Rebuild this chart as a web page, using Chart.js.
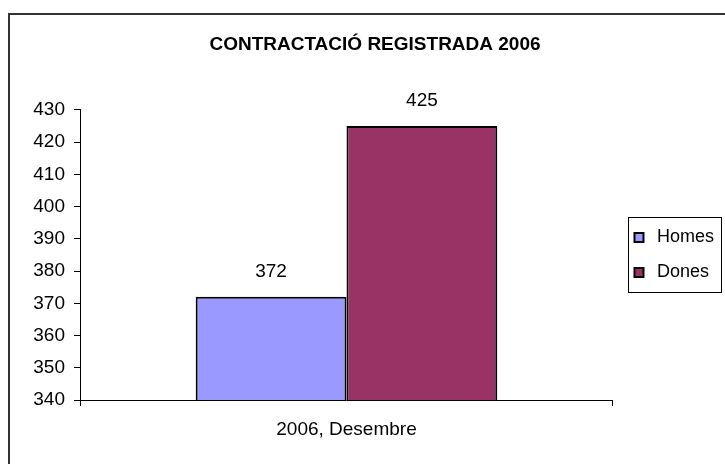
<!DOCTYPE html>
<html>
<head>
<meta charset="utf-8">
<script src="https://cdn.jsdelivr.net/npm/chart.js@4"></script>
<style>
  html, body { margin: 0; padding: 0; background: #fff; }
  #wrap { width: 725px; height: 464px; position: relative; }
</style>
</head>
<body>
<div id="wrap"><canvas id="myChart" width="725" height="464"></canvas></div>
<script>
// chart data
const chartTitle = 'CONTRACTACIÓ REGISTRADA 2006';
const categories = ['2006, Desembre'];
const seriesNames = ['Homes', 'Dones'];
const homesValues = [372];
const donesValues = [425];
const seriesColors = ['#9999FF', '#993366'];
const yMin = 340;
const yMax = 430;
const yStep = 10;

Chart.defaults.font.family = '"Liberation Sans", Arial, sans-serif';
Chart.defaults.color = '#000';

// outer frame of the chart object (only top and left edges show)
const framePlugin = {
    id: 'frame',
    beforeDraw(chart) {
        const ctx = chart.ctx;
        ctx.save();
        ctx.strokeStyle = '#333';
        ctx.lineWidth = 2;
        ctx.beginPath();
        ctx.moveTo(9, 470);
        ctx.lineTo(9, 14);
        ctx.lineTo(730, 14);
        ctx.stroke();
        ctx.restore();
    }
};

// numbers above the bars
const valueLabels = {
    id: 'valueLabels',
    afterDatasetsDraw(chart) {
        const ctx = chart.ctx;
        ctx.save();
        ctx.font = '19px "Liberation Sans", Arial, sans-serif';
        ctx.fillStyle = '#000';
        ctx.textAlign = 'center';
        ctx.textBaseline = 'middle';
        chart.data.datasets.forEach((ds, i) => {
            chart.getDatasetMeta(i).data.forEach((bar, j) => {
                ctx.fillText(ds.data[j], bar.x, bar.y - 25);
            });
        });
        ctx.restore();
    }
};

// box around the legend
const legendBox = {
    id: 'legendBox',
    afterDraw(chart) {
        const lg = chart.legend;
        const hb = lg.legendHitBoxes;
        if (!hb || !hb.length) return;
        const last = hb[hb.length - 1];
        const left = Math.round(hb[0].left - 2) + 0.5;
        const top = Math.round(hb[0].top - 11) + 0.5;
        const right = Math.round(lg.right - 3) + 0.5;
        const bottom = Math.round(last.top + last.height + 11) + 0.5;
        const ctx = chart.ctx;
        ctx.save();
        ctx.strokeStyle = '#000';
        ctx.lineWidth = 1;
        ctx.strokeRect(left, top, right - left, bottom - top);
        ctx.restore();
    }
};

new Chart(document.getElementById('myChart'), {
    type: 'bar',
    data: {
        labels: categories,
        datasets: [
            { label: seriesNames[0], data: homesValues, backgroundColor: seriesColors[0], borderColor: '#000', borderWidth: 2, borderSkipped: false },
            { label: seriesNames[1], data: donesValues, backgroundColor: seriesColors[1], borderColor: '#000', borderWidth: 2, borderSkipped: false }
        ]
    },
    options: {
        responsive: false,
        animation: false,
        layout: { padding: { left: 26, right: 1, top: 0, bottom: 0 } },
        datasets: { bar: { categoryPercentage: 0.566, barPercentage: 1 } },
        plugins: {
            title: {
                display: true,
                text: chartTitle,
                color: '#000',
                font: { size: 19, weight: 'bold' },
                padding: { top: 33, bottom: 54 }
            },
            legend: {
                position: 'right',
                fullSize: false,
                labels: {
                    usePointStyle: true,
                    pointStyle: 'rect',
                    boxWidth: 18,
                    boxHeight: 9,
                    padding: 17,
                    color: '#000',
                    font: { size: 18 }
                }
            },
            tooltip: { enabled: false }
        },
        scales: {
            x: {
                grid: { drawOnChartArea: false, tickLength: 6, color: '#000' },
                border: { color: '#000' },
                ticks: { color: '#000', font: { size: 19 }, padding: 12 },
                afterFit(scale) { scale.height = 64; }
            },
            y: {
                min: yMin,
                max: yMax,
                ticks: { stepSize: yStep, color: '#000', font: { size: 19 }, padding: 9 },
                grid: { drawOnChartArea: false, tickLength: 6, color: '#000' },
                border: { color: '#000' },
                afterFit(scale) { scale.width = 54; }
            }
        }
    },
    plugins: [framePlugin, valueLabels, legendBox]
});
</script>
</body>
</html>
